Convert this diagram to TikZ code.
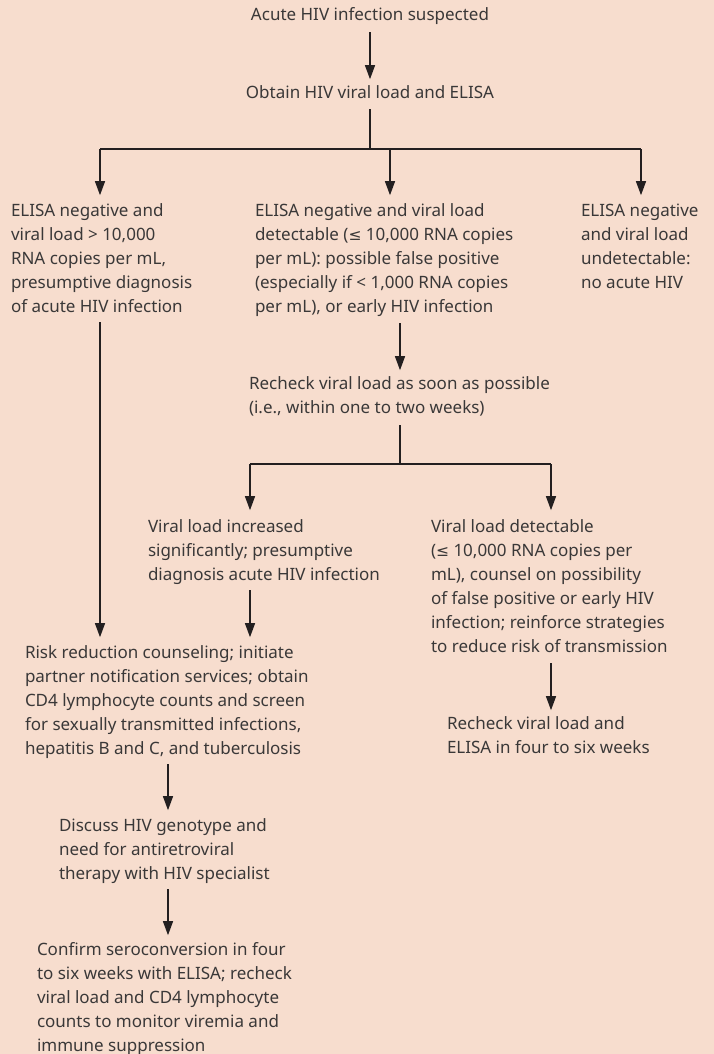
\documentclass[tikz,border=0pt]{standalone}
\usepackage{fontspec}
\setmainfont{Noto Sans}
\newfontfamily\symfont{DejaVu Sans}
\usetikzlibrary{arrows.meta}
\definecolor{bg}{RGB}{247,221,206}
\definecolor{txt}{RGB}{58,56,56}
\definecolor{linecol}{RGB}{35,31,32}
\newcommand\blk[1]{\begin{tabular}[t]{@{}l@{}}#1\end{tabular}}
\newcommand\cblk[1]{\begin{tabular}[t]{@{}c@{}}#1\end{tabular}}
\newcommand\leqsym{{\symfont\fontsize{15.5}{24}\selectfont ≤}}
\begin{document}
\begin{tikzpicture}[x=1pt,y=-1pt,
  txtnode/.style={inner sep=0pt, outer sep=0pt, anchor=base west, text=txt, font=\fontsize{17}{24}\selectfont},
  ctxt/.style={txtnode, anchor=base},
  conn/.style={draw=linecol, line width=1.3pt},
  arr/.style={conn, -{Triangle[length=14pt,width=10pt]}}]
\useasboundingbox (0,0) rectangle (714,1054);
\fill[bg] (0,0) rectangle (714,1054);

% texts
\node[ctxt] (title) at (370,21) {\cblk{Acute HIV infection suspected}};
\node[ctxt] (obtain) at (370,99) {\cblk{Obtain HIV viral load and ELISA}};
\node[txtnode] (A) at (11,216) {\blk{ELISA negative and\\viral load > 10,000\\RNA copies per mL,\\presumptive diagnosis\\of acute HIV infection}};
\node[txtnode] (B) at (255,216) {\blk{ELISA negative and viral load\\detectable (\leqsym{} 10,000 RNA copies\\per mL): possible false positive\\(especially if < 1,000 RNA copies\\per mL), or early HIV infection}};
\node[txtnode] (C) at (581,216) {\blk{ELISA negative\\and viral load\\undetectable:\\no acute HIV}};
\node[txtnode] (D) at (249,389) {\blk{Recheck viral load as soon as possible\\(i.e., within one to two weeks)}};
\node[txtnode] (E) at (148,532) {\blk{Viral load increased\\significantly; presumptive\\diagnosis acute HIV infection}};
\node[txtnode] (F) at (431,532) {\blk{Viral load detectable\\(\leqsym{} 10,000 RNA copies per\\mL), counsel on possibility\\of false positive or early HIV\\infection; reinforce strategies\\to reduce risk of transmission}};
\node[txtnode] (G) at (447,729) {\blk{Recheck viral load and\\ELISA in four to six weeks}};
\node[txtnode] (H) at (25,658) {\blk{Risk reduction counseling; initiate\\partner notification services; obtain\\CD4 lymphocyte counts and screen\\for sexually transmitted infections,\\hepatitis B and C, and tuberculosis}};
\node[txtnode] (I) at (59,831) {\blk{Discuss HIV genotype and\\need for antiretroviral\\therapy with HIV specialist}};
\node[txtnode] (J) at (37,955) {\blk{Confirm seroconversion in four\\to six weeks with ELISA; recheck\\viral load and CD4 lymphocyte\\counts to monitor viremia and\\immune suppression}};

% junction coordinates
\coordinate (b1) at (370,149);
\coordinate (bL) at (100,149);
\coordinate (bM) at (390,149);
\coordinate (bR) at (641,149);
\coordinate (xB) at (400,0);
\coordinate (b2) at (400,464);
\coordinate (b2L) at (250,464);
\coordinate (b2R) at (551,464);
\coordinate (xH) at (168,0);

% connectors
\draw[arr, shorten <=4pt, shorten >=3pt] (title.south) -- (title.south |- obtain.north);
\draw[conn, shorten <=3pt] (obtain.south) -- (b1);
\draw[conn] (bL) -- (bR);
\draw[arr, shorten >=4pt] (bL) -- (bL |- A.north);
\draw[arr, shorten >=4pt] (bM) -- (bM |- B.north);
\draw[arr, shorten >=4pt] (bR) -- (bR |- C.north);
\draw[arr, shorten <=3pt, shorten >=4pt] (A.south -| bL) -- (bL |- H.north);
\draw[arr, shorten <=4pt, shorten >=2pt] (B.south -| xB) -- (xB |- D.north);
\draw[conn, shorten <=5pt] (D.south -| xB) -- (b2);
\draw[conn] (b2L) -- (b2R);
\draw[arr, shorten >=5pt] (b2L) -- (b2L |- E.north);
\draw[arr, shorten >=5pt] (b2R) -- (b2R |- F.north);
\draw[arr, shorten <=3pt, shorten >=4pt] (E.south -| b2L) -- (b2L |- H.north);
\draw[arr, shorten <=4pt, shorten >=2pt] (F.south -| b2R) -- (b2R |- G.north);
\draw[arr, shorten <=3pt, shorten >=4pt] (H.south -| xH) -- (xH |- I.north);
\draw[arr, shorten <=3pt, shorten >=3pt] (I.south -| xH) -- (xH |- J.north);
\end{tikzpicture}
\end{document}
